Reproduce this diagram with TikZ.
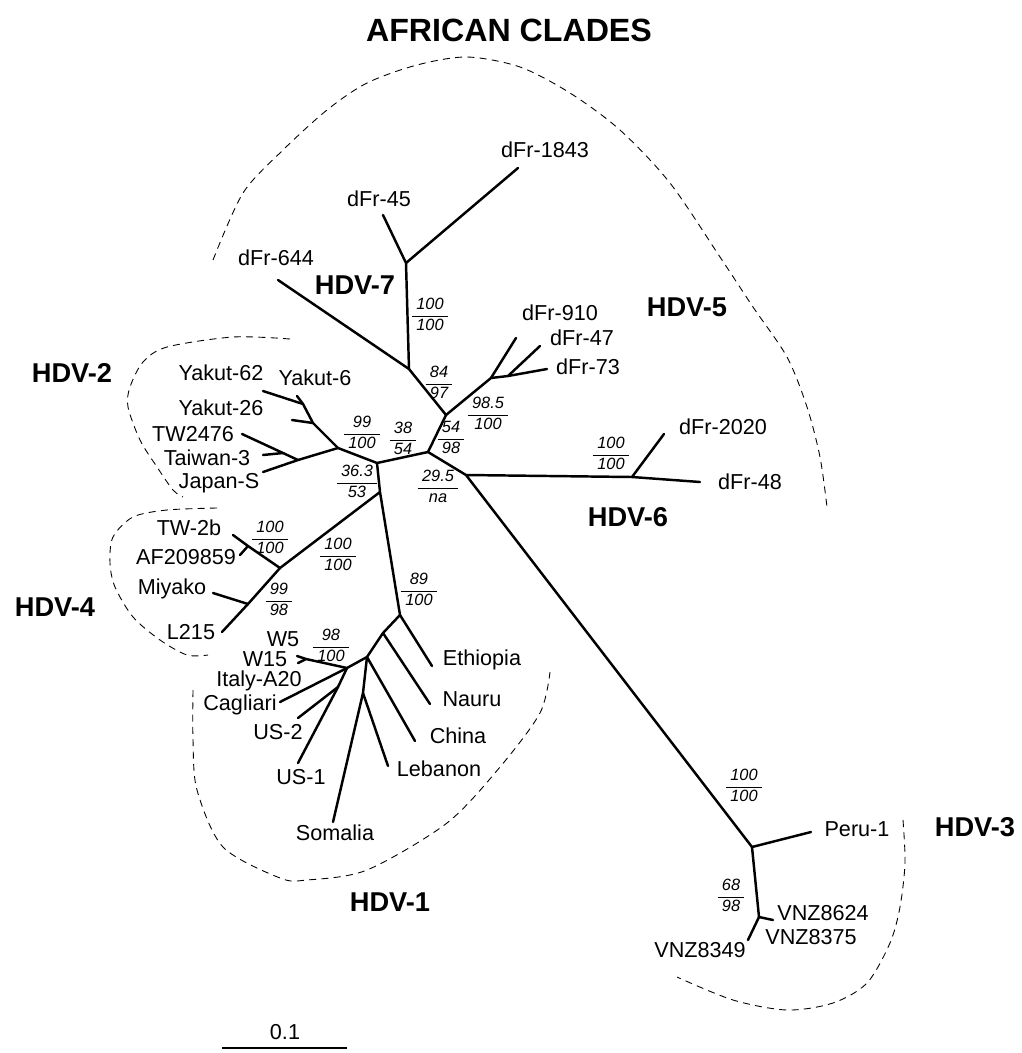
\documentclass[tikz,border=0pt]{standalone}
\usepackage{fontspec}
\setmainfont{Liberation Sans}
\tikzstyle{l1}=[line width=1.4pt, line cap=round, line join=round]
\tikzstyle{hull}=[line width=0.5pt, dash pattern=on 4pt off 3pt]
\tikzstyle{leaf}=[inner sep=0pt, font=\fontsize{12.3}{14}\selectfont]
\tikzstyle{clade}=[inner sep=0pt, font=\fontsize{15.5}{18}\selectfont\bfseries]
\tikzstyle{supp}=[inner sep=0pt, font=\fontsize{9.3}{11.2}\selectfont\itshape]
\newcommand{\bsv}[2]{\begin{tabular}{@{\hspace{2.5pt}}c@{\hspace{2.5pt}}}#1\\\hline #2\end{tabular}}

\begin{document}
\begin{tikzpicture}[x=0.2mm, y=-0.2mm]
    \useasboundingbox (0,0) rectangle (1022,1053);

    % junctions
    \coordinate (A) at (377,463);
    \coordinate (T) at (380,492);
    \coordinate (B) at (428,452);
    \coordinate (C) at (446,415);
    \coordinate (D) at (466,475);
    \coordinate (E) at (338,448);
    \coordinate (F) at (409,369);
    \coordinate (G) at (406,263);
    \coordinate (H) at (491,378);
    \coordinate (I) at (508,376);
    \coordinate (K6) at (632,477);
    \coordinate (J) at (752,847);
    \coordinate (K) at (759,917);
    \coordinate (L) at (400,615);
    \coordinate (M) at (383,633);
    \coordinate (N) at (367,657);
    \coordinate (O) at (363,693);
    \coordinate (P) at (347,668);
    \coordinate (Q) at (306,659);
    \coordinate (R) at (338,687);
    \coordinate (S) at (280,568);
    \coordinate (U) at (248,546);
    \coordinate (V) at (248,604);
    \coordinate (W) at (298,460);
    \coordinate (X) at (283,453);
    \coordinate (Y6) at (303,404);
    \coordinate (Y26) at (313,423);

    % tips
    \coordinate (t644) at (278,280);
    \coordinate (t45) at (383,215);
    \coordinate (t1843) at (518,168);
    \coordinate (t910) at (516,338);
    \coordinate (t47) at (540,346);
    \coordinate (t73) at (547,369);
    \coordinate (t48) at (700,482);
    \coordinate (t2020) at (664,434);
    \coordinate (tperu) at (811,832);
    \coordinate (t8624) at (773,920);
    \coordinate (t8349) at (748,940);
    \coordinate (teth) at (432,666);
    \coordinate (tnau) at (430,704);
    \coordinate (tchi) at (415,741);
    \coordinate (tleb) at (388,766);
    \coordinate (tsom) at (333,822);
    \coordinate (tw5) at (297,656);
    \coordinate (tw15) at (298,663);
    \coordinate (tcag) at (280,702);
    \coordinate (tus2) at (298,718);
    \coordinate (tus1) at (298,763);
    \coordinate (ttw2b) at (233,535);
    \coordinate (taf) at (240,555);
    \coordinate (tmiy) at (213,593);
    \coordinate (tl215) at (222,632);
    \coordinate (tjap) at (263,472);
    \coordinate (ttw) at (242,434);
    \coordinate (ttai) at (263,455);
    \coordinate (ty62) at (263,391);
    \coordinate (ty6) at (297,396);
    \coordinate (ty26) at (292,420);

    \draw[l1] (E) -- (A) -- (B) -- (C);
    \draw[l1] (A) -- (T) -- (L);
    \draw[l1] (B) -- (D) -- (J);
    \draw[l1] (C) -- (F) -- (t644);
    \draw[l1] (F) -- (G) -- (t45);
    \draw[l1] (G) -- (t1843);
    \draw[l1] (C) -- (H) -- (t910);
    \draw[l1] (H) -- (I) -- (t47);
    \draw[l1] (I) -- (t73);
    \draw[l1] (D) -- (K6) -- (t48);
    \draw[l1] (K6) -- (t2020);
    \draw[l1] (J) -- (tperu);
    \draw[l1] (J) -- (K) -- (t8624);
    \draw[l1] (K) -- (t8349);
    \draw[l1] (L) -- (teth);
    \draw[l1] (L) -- (M) -- (tnau);
    \draw[l1] (M) -- (N) -- (tchi);
    \draw[l1] (N) -- (O) -- (tleb);
    \draw[l1] (O) -- (tsom);
    \draw[l1] (N) -- (P) -- (Q) -- (tw5);
    \draw[l1] (Q) -- (tw15);
    \draw[l1] (P) -- (tcag);
    \draw[l1] (P) -- (R) -- (tus2);
    \draw[l1] (R) -- (tus1);
    \draw[l1] (T) -- (S) -- (U) -- (ttw2b);
    \draw[l1] (U) -- (taf);
    \draw[l1] (S) -- (V) -- (tl215);
    \draw[l1] (V) -- (tmiy);
    \draw[l1] (E) -- (W) -- (tjap);
    \draw[l1] (W) -- (X) -- (ttw);
    \draw[l1] (X) -- (ttai);
    \draw[l1] (E) -- (Y26) -- (Y6) -- (ty62);
    \draw[l1] (Y6) -- (ty6);
    \draw[l1] (Y26) -- (ty26);

    % leaf names
    \node[leaf] (n1843) at (545,150) {dFr-1843};
    \node[leaf] (n45) at (379,199) {dFr-45};
    \node[leaf] (n644) at (276,258) {dFr-644};
    \node[leaf] (n910) at (560,313) {dFr-910};
    \node[leaf] (n47) at (582,338) {dFr-47};
    \node[leaf] (n73) at (588,367) {dFr-73};
    \node[leaf] (n2020) at (723,427) {dFr-2020};
    \node[leaf] (n48) at (750,482) {dFr-48};
    \node[leaf] (nperu) at (857,829) {Peru-1};
    \node[leaf] (n8624) at (823,913) {VNZ8624};
    \node[leaf] (n8375) at (811,937) {VNZ8375};
    \node[leaf] (n8349) at (700,950) {VNZ8349};
    \node[leaf] (neth) at (482,660) {Ethiopia};
    \node[leaf] (nnau) at (472,699) {Nauru};
    \node[leaf] (nchi) at (458,736) {China};
    \node[leaf] (nleb) at (439,769) {Lebanon};
    \node[leaf] (nsom) at (335,833) {Somalia};
    \node[leaf] (nus1) at (301,777) {US-1};
    \node[leaf] (nus2) at (278,732) {US-2};
    \node[leaf] (ncag) at (240,705) {Cagliari};
    \node[leaf] (nita) at (259,681) {Italy-A20};
    \node[leaf] (nw15) at (265,659) {W15};
    \node[leaf] (nw5) at (283,639) {W5};
    \node[leaf] (nl215) at (191,632) {L215};
    \node[leaf] (nmiy) at (172,589) {Miyako};
    \node[leaf] (naf) at (186,557) {AF209859};
    \node[leaf] (ntw2b) at (189,528) {TW-2b};
    \node[leaf] (njap) at (219,483) {Japan-S};
    \node[leaf] (ntai) at (207,458) {Taiwan-3};
    \node[leaf] (ntw) at (193,434) {TW2476};
    \node[leaf] (ny26) at (221,408) {Yakut-26};
    \node[leaf] (ny62) at (221,373) {Yakut-62};
    \node[leaf] (ny6) at (315,378) {Yakut-6};

    % support values
    \node[supp] (s1) at (430,316) {\bsv{100}{100}};
    \node[supp] (s2) at (439,384) {\bsv{84}{97}};
    \node[supp] (s3) at (488,415) {\bsv{98.5}{100}};
    \node[supp] (s4) at (362,434) {\bsv{99}{100}};
    \node[supp] (s5) at (403,440) {\bsv{38}{54}};
    \node[supp] (s6) at (451,439) {\bsv{54}{98}};
    \node[supp] (s7) at (357,483) {\bsv{36.3}{53}};
    \node[supp] (s8) at (438,488) {\bsv{29.5}{na}};
    \node[supp] (s9) at (611,455) {\bsv{100}{100}};
    \node[supp] (s10) at (270,539) {\bsv{100}{100}};
    \node[supp] (s11) at (338,556) {\bsv{100}{100}};
    \node[supp] (s12) at (279,601) {\bsv{99}{98}};
    \node[supp] (s13) at (419,591) {\bsv{89}{100}};
    \node[supp] (s14) at (331,647) {\bsv{98}{100}};
    \node[supp] (s15) at (744,787) {\bsv{100}{100}};
    \node[supp] (s16) at (731,897) {\bsv{68}{98}};

    % clades
    \node[clade, font=\fontsize{18.3}{20}\selectfont\bfseries] (title) at (509,30) {AFRICAN CLADES};
    \node[clade] (h7) at (355,285) {HDV-7};
    \node[clade] (h5) at (687,307) {HDV-5};
    \node[clade] (h2) at (72,373) {HDV-2};
    \node[clade] (h4) at (55,607) {HDV-4};
    \node[clade] (h6) at (628,517) {HDV-6};
    \node[clade] (h1) at (390,902) {HDV-1};
    \node[clade] (h3) at (975,827) {HDV-3};

    \draw[hull] plot[smooth] coordinates {(213,260) (243,193) (283,150) (327,110) (367,83) (417,65) (467,57) (520,67) (570,93) (620,130) (670,183) (720,257) (753,307) (787,357) (807,407) (820,457) (827,507)};
    \draw[hull] plot[smooth] coordinates {(290,339) (233,337) (167,347) (143,362) (130,387) (128,407) (140,440) (157,467) (173,490) (183,497)};
    \draw[hull] plot[smooth] coordinates {(217,508) (167,510) (133,517) (113,537) (110,563) (115,587) (133,617) (160,640) (187,655) (208,655)};
    \draw[hull] plot[smooth] coordinates {(193,690) (193,740) (197,790) (223,847) (280,878) (307,880) (367,870) (447,823) (500,767) (540,713) (550,672)};
    \draw[hull] plot[smooth] coordinates {(903,820) (905,863) (900,907) (890,943) (867,983) (833,1003) (787,1010) (733,1000) (677,977)};

    % scale
    \coordinate (sb1) at (222,1048);
    \coordinate (sb2) at (347,1048);
    \draw[l1, line cap=butt] (sb1) -- (sb2);
    \node[leaf] (sbl) at (285,1032) {0.1};
\end{tikzpicture}
\end{document}
